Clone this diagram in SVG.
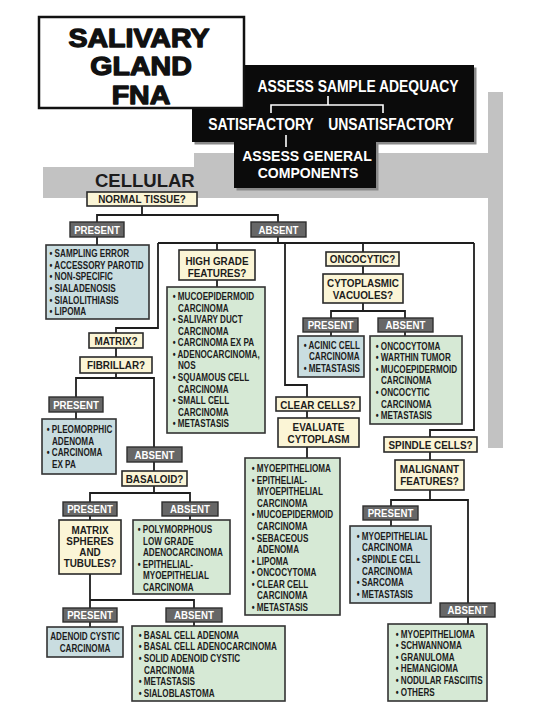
<svg xmlns="http://www.w3.org/2000/svg" width="540" height="720" viewBox="0 0 540 720">
<style>
text{font-family:"Liberation Sans",Arial,Helvetica,sans-serif;font-weight:bold}
.li{font-size:10.7px;fill:#1c1c1c}
.lc{font-size:10.7px;fill:#1c1c1c;text-anchor:middle}
.q{font-size:11px;fill:#1c1c1c;text-anchor:middle}
.lb{font-size:11px;fill:#ffffff;text-anchor:middle}
.bk{font-size:16px;fill:#ffffff;text-anchor:middle}
.bk2{font-size:14.5px;fill:#ffffff;text-anchor:middle}
.tt{font-size:25.5px;fill:#111;text-anchor:middle;stroke:#111;stroke-width:1.3;stroke-linejoin:round}
.cq{fill:#fbf5d6;stroke:#2a2a2a;stroke-width:1.6}
.cb{fill:#c9dde0;stroke:#333;stroke-width:1.6}
.cg{fill:#d6e9d5;stroke:#333;stroke-width:1.6}
.cl{fill:#676767;stroke:#2f2f2f;stroke-width:1.4}
.con{fill:none;stroke:#1e1e1e;stroke-width:1.8}
</style>

<g id="background">
<path d="M43,167 H194 V153 H488 V92 H503 V448 H488 V198 H43 Z" fill="#c2c2c2"/>
</g>

<g id="adequacy">
<path d="M194.5,67.5 H476.5 V144.5 H378.5 V190.5 H236.5 V144.5 H194.5 Z" fill="#8a8a8a"/>
<path d="M192,65 H474 V142 H376 V188 H234 V142 H192 Z" fill="#0b0b0b"/>
<text class="bk" transform="translate(358 92) scale(.87 1)">ASSESS SAMPLE ADEQUACY</text>
<path d="M328,96 V105 M271,113 V105 H383 V113" fill="none" stroke="#fff" stroke-width="1.6"/>
<text class="bk" transform="translate(261 130) scale(.87 1)">SATISFACTORY</text>
<text class="bk" transform="translate(391 130) scale(.87 1)">UNSATISFACTORY</text>
<path d="M286,135 V147" fill="none" stroke="#fff" stroke-width="1.6"/>
<text class="bk2" transform="translate(307 161) scale(.97 1)">ASSESS GENERAL</text>
<text class="bk2" transform="translate(308 177.5) scale(.97 1)">COMPONENTS</text>
</g>

<g id="title">
<rect x="39" y="17" width="205" height="91" fill="#fff" stroke="#111" stroke-width="2.5"/>
<text class="tt" transform="translate(139 46.5) scale(1.12 1)">SALIVARY</text>
<text class="tt" transform="translate(141 75) scale(1.12 1)">GLAND</text>
<text class="tt" transform="translate(141 103.5) scale(1.12 1)">FNA</text>
</g>

<g id="cellular">
<text x="95" y="187" font-size="18.5" fill="#1c1c1c">CELLULAR</text>
</g>

<g id="connectors" class="con">
<path class="con" d="M142,206 V215 M97,222 V215 H278 V222"/>
<path class="con" d="M97,237 V245"/>
<path class="con" d="M278,237 V243 M158,243 H474"/>
<path class="con" d="M158,243 V328 H116 V333"/>
<path class="con" d="M217,243 V250"/>
<path class="con" d="M285,243 V385 H307 V397"/>
<path class="con" d="M363,243 V252"/>
<path class="con" d="M474,243 V430 H430 V437"/>
<path class="con" d="M217,280 V287"/>
<path class="con" d="M116,348 V357"/>
<path class="con" d="M116,373 V378 M76,397 V378 H154 V447"/>
<path class="con" d="M76,412 V419"/>
<path class="con" d="M154,462 V471"/>
<path class="con" d="M154,486 V493 M90,502 V493 H190 V502"/>
<path class="con" d="M90,516 V520"/>
<path class="con" d="M190,516 V520"/>
<path class="con" d="M90,574 V600 M90,608 V600 H194 V608"/>
<path class="con" d="M90,622 V627"/>
<path class="con" d="M194,622 V626"/>
<path class="con" d="M307,411 V418"/>
<path class="con" d="M307,447 V458"/>
<path class="con" d="M363,266 V274"/>
<path class="con" d="M363,303 V311 M331,318 V311 H405 V318"/>
<path class="con" d="M331,332 V336"/>
<path class="con" d="M405,332 V336"/>
<path class="con" d="M430,452 V460"/>
<path class="con" d="M430,490 V500 M391,506 V500 H468 V603"/>
<path class="con" d="M391,520 V526"/>
<path class="con" d="M468,617 V624"/>
</g>

<g id="normal-tissue">
<rect class="cq" x="87" y="192" width="110" height="14"/>
<text class="q" transform="translate(142 202.5) scale(.9 1)">NORMAL TISSUE?</text>
</g>

<g id="present-1">
<rect class="cl" x="70" y="222" width="54" height="15"/>
<text class="lb" transform="translate(97 233.5) scale(.88 1)">PRESENT</text>
</g>

<g id="absent-1">
<rect class="cl" x="251" y="222" width="55" height="15"/>
<text class="lb" transform="translate(278.5 233.5) scale(.88 1)">ABSENT</text>
</g>

<g id="normal-list">
<rect class="cb" x="46" y="245" width="103" height="74"/>
<text class="li" transform="translate(49.5 257) scale(.76 1)">• SAMPLING ERROR</text>
<text class="li" transform="translate(49.5 268.7) scale(.76 1)">• ACCESSORY PAROTID</text>
<text class="li" transform="translate(49.5 280.3) scale(.76 1)">• NON-SPECIFIC</text>
<text class="li" transform="translate(49.5 292) scale(.76 1)">• SIALADENOSIS</text>
<text class="li" transform="translate(49.5 303.7) scale(.76 1)">• SIALOLITHIASIS</text>
<text class="li" transform="translate(49.5 315.3) scale(.76 1)">• LIPOMA</text>
</g>

<g id="high-grade">
<rect class="cq" x="179" y="250" width="76" height="30"/>
<text class="q" transform="translate(217 265) scale(.9 1)">HIGH GRADE</text>
<text class="q" transform="translate(217 277) scale(.9 1)">FEATURES?</text>
</g>

<g id="high-grade-list">
<rect class="cg" x="167" y="287" width="98" height="146"/>
<text class="li" transform="translate(172.7 300) scale(.76 1)">• MUCOEPIDERMOID</text>
<text class="li" transform="translate(178 311.6) scale(.76 1)">CARCINOMA</text>
<text class="li" transform="translate(172.7 323.1) scale(.76 1)">• SALIVARY DUCT</text>
<text class="li" transform="translate(178 334.7) scale(.76 1)">CARCINOMA</text>
<text class="li" transform="translate(172.7 346.3) scale(.76 1)">• CARCINOMA EX PA</text>
<text class="li" transform="translate(172.7 357.9) scale(.76 1)">• ADENOCARCINOMA,</text>
<text class="li" transform="translate(178 369.4) scale(.76 1)">NOS</text>
<text class="li" transform="translate(172.7 381) scale(.76 1)">• SQUAMOUS CELL</text>
<text class="li" transform="translate(178 392.6) scale(.76 1)">CARCINOMA</text>
<text class="li" transform="translate(172.7 404.1) scale(.76 1)">• SMALL CELL</text>
<text class="li" transform="translate(178 415.7) scale(.76 1)">CARCINOMA</text>
<text class="li" transform="translate(172.7 427.3) scale(.76 1)">• METASTASIS</text>
</g>

<g id="matrix">
<rect class="cq" x="89" y="333" width="54" height="15"/>
<text class="q" transform="translate(116 344.5) scale(.9 1)">MATRIX?</text>
</g>

<g id="fibrillar">
<rect class="cq" x="80" y="357" width="72" height="16"/>
<text class="q" transform="translate(116 369) scale(.9 1)">FIBRILLAR?</text>
</g>

<g id="present-2">
<rect class="cl" x="49" y="397" width="54" height="15"/>
<text class="lb" transform="translate(76 408.5) scale(.88 1)">PRESENT</text>
</g>

<g id="fibrillar-list">
<rect class="cb" x="42" y="419" width="74" height="55"/>
<text class="li" transform="translate(46.7 433) scale(.76 1)">• PLEOMORPHIC</text>
<text class="li" transform="translate(52 444.6) scale(.76 1)">ADENOMA</text>
<text class="li" transform="translate(46.7 456.2) scale(.76 1)">• CARCINOMA</text>
<text class="li" transform="translate(52 467.8) scale(.76 1)">EX PA</text>
</g>

<g id="absent-2">
<rect class="cl" x="127" y="447" width="55" height="15"/>
<text class="lb" transform="translate(154.5 458.5) scale(.88 1)">ABSENT</text>
</g>

<g id="basaloid">
<rect class="cq" x="122" y="471" width="65" height="15"/>
<text class="q" transform="translate(154.5 482.5) scale(.9 1)">BASALOID?</text>
</g>

<g id="present-3">
<rect class="cl" x="63" y="502" width="54" height="14"/>
<text class="lb" transform="translate(90 513) scale(.88 1)">PRESENT</text>
</g>

<g id="absent-3">
<rect class="cl" x="162" y="502" width="56" height="14"/>
<text class="lb" transform="translate(190 513) scale(.88 1)">ABSENT</text>
</g>

<g id="matrix-spheres">
<rect class="cq" x="59" y="520" width="62" height="54"/>
<text class="q" transform="translate(90 534) scale(.9 1)">MATRIX</text>
<text class="q" transform="translate(90 545) scale(.9 1)">SPHERES</text>
<text class="q" transform="translate(90 556) scale(.9 1)">AND</text>
<text class="q" transform="translate(90 567) scale(.9 1)">TUBULES?</text>
</g>

<g id="basaloid-absent-list">
<rect class="cg" x="133" y="520" width="97" height="74"/>
<text class="li" transform="translate(137.7 533) scale(.76 1)">• POLYMORPHOUS</text>
<text class="li" transform="translate(143 544.5) scale(.76 1)">LOW GRADE</text>
<text class="li" transform="translate(143 556) scale(.76 1)">ADENOCARCINOMA</text>
<text class="li" transform="translate(137.7 567.5) scale(.76 1)">• EPITHELIAL-</text>
<text class="li" transform="translate(143 579) scale(.76 1)">MYOEPITHELIAL</text>
<text class="li" transform="translate(143 590.5) scale(.76 1)">CARCINOMA</text>
</g>

<g id="present-4">
<rect class="cl" x="63" y="608" width="54" height="14"/>
<text class="lb" transform="translate(90 619) scale(.88 1)">PRESENT</text>
</g>

<g id="absent-4">
<rect class="cl" x="166" y="608" width="56" height="14"/>
<text class="lb" transform="translate(194 619) scale(.88 1)">ABSENT</text>
</g>

<g id="adenoid-cystic">
<rect class="cb" x="47" y="627" width="76" height="30"/>
<text class="lc" transform="translate(85 640) scale(.76 1)">ADENOID CYSTIC</text>
<text class="lc" transform="translate(85 651.5) scale(.76 1)">CARCINOMA</text>
</g>

<g id="spheres-absent-list">
<rect class="cg" x="132" y="626" width="153" height="75"/>
<text class="li" transform="translate(138.7 638.7) scale(.76 1)">• BASAL CELL ADENOMA</text>
<text class="li" transform="translate(138.7 650.3) scale(.76 1)">• BASAL CELL ADENOCARCINOMA</text>
<text class="li" transform="translate(138.7 662) scale(.76 1)">• SOLID ADENOID CYSTIC</text>
<text class="li" transform="translate(144 673.7) scale(.76 1)">CARCINOMA</text>
<text class="li" transform="translate(138.7 685.3) scale(.76 1)">• METASTASIS</text>
<text class="li" transform="translate(138.7 697) scale(.76 1)">• SIALOBLASTOMA</text>
</g>

<g id="clear-cells">
<rect class="cq" x="276" y="397" width="84" height="14"/>
<text class="q" transform="translate(318 408.5) scale(.9 1)">CLEAR CELLS?</text>
</g>

<g id="evaluate">
<rect class="cq" x="278" y="418" width="81" height="29"/>
<text class="q" transform="translate(318.5 431) scale(.9 1)">EVALUATE</text>
<text class="q" transform="translate(318.5 443) scale(.9 1)">CYTOPLASM</text>
</g>

<g id="clear-list">
<rect class="cg" x="245" y="458" width="95" height="157"/>
<text class="li" transform="translate(251.7 472.3) scale(.76 1)">• MYOEPITHELIOMA</text>
<text class="li" transform="translate(251.7 483.8) scale(.76 1)">• EPITHELIAL-</text>
<text class="li" transform="translate(257 495.4) scale(.76 1)">MYOEPITHELIAL</text>
<text class="li" transform="translate(257 506.9) scale(.76 1)">CARCINOMA</text>
<text class="li" transform="translate(251.7 518.4) scale(.76 1)">• MUCOEPIDERMOID</text>
<text class="li" transform="translate(257 530) scale(.76 1)">CARCINOMA</text>
<text class="li" transform="translate(251.7 541.5) scale(.76 1)">• SEBACEOUS</text>
<text class="li" transform="translate(257 553) scale(.76 1)">ADENOMA</text>
<text class="li" transform="translate(251.7 564.5) scale(.76 1)">• LIPOMA</text>
<text class="li" transform="translate(251.7 576.1) scale(.76 1)">• ONCOCYTOMA</text>
<text class="li" transform="translate(251.7 587.6) scale(.76 1)">• CLEAR CELL</text>
<text class="li" transform="translate(257 599.1) scale(.76 1)">CARCINOMA</text>
<text class="li" transform="translate(251.7 610.7) scale(.76 1)">• METASTASIS</text>
</g>

<g id="oncocytic">
<rect class="cq" x="326" y="252" width="73" height="14"/>
<text class="q" transform="translate(362.5 263) scale(.9 1)">ONCOCYTIC?</text>
</g>

<g id="cytoplasmic">
<rect class="cq" x="323" y="274" width="80" height="29"/>
<text class="q" transform="translate(363 287) scale(.9 1)">CYTOPLASMIC</text>
<text class="q" transform="translate(363 299) scale(.9 1)">VACUOLES?</text>
</g>

<g id="present-5">
<rect class="cl" x="303" y="318" width="55" height="14"/>
<text class="lb" transform="translate(330.5 329) scale(.88 1)">PRESENT</text>
</g>

<g id="absent-5">
<rect class="cl" x="378" y="318" width="55" height="14"/>
<text class="lb" transform="translate(405.5 329) scale(.88 1)">ABSENT</text>
</g>

<g id="vacuoles-present-list">
<rect class="cb" x="298" y="336" width="66" height="41"/>
<text class="li" transform="translate(303.7 348.5) scale(.76 1)">• ACINIC CELL</text>
<text class="li" transform="translate(309 360) scale(.76 1)">CARCINOMA</text>
<text class="li" transform="translate(303.7 371.5) scale(.76 1)">• METASTASIS</text>
</g>

<g id="vacuoles-absent-list">
<rect class="cg" x="370" y="336" width="92" height="88"/>
<text class="li" transform="translate(375.7 349.7) scale(.76 1)">• ONCOCYTOMA</text>
<text class="li" transform="translate(375.7 361.3) scale(.76 1)">• WARTHIN TUMOR</text>
<text class="li" transform="translate(375.7 372.8) scale(.76 1)">• MUCOEPIDERMOID</text>
<text class="li" transform="translate(381 384.4) scale(.76 1)">CARCINOMA</text>
<text class="li" transform="translate(375.7 396) scale(.76 1)">• ONCOCYTIC</text>
<text class="li" transform="translate(381 407.6) scale(.76 1)">CARCINOMA</text>
<text class="li" transform="translate(375.7 419.1) scale(.76 1)">• METASTASIS</text>
</g>

<g id="spindle-cells">
<rect class="cq" x="384" y="437" width="93" height="15"/>
<text class="q" transform="translate(430.5 448.5) scale(.9 1)">SPINDLE CELLS?</text>
</g>

<g id="malignant">
<rect class="cq" x="395" y="460" width="69" height="30"/>
<text class="q" transform="translate(429.5 473) scale(.9 1)">MALIGNANT</text>
<text class="q" transform="translate(429.5 485) scale(.9 1)">FEATURES?</text>
</g>

<g id="present-6">
<rect class="cl" x="363" y="506" width="55" height="14"/>
<text class="lb" transform="translate(390.5 517) scale(.88 1)">PRESENT</text>
</g>

<g id="malignant-list">
<rect class="cb" x="350" y="526" width="81" height="77"/>
<text class="li" transform="translate(356.7 539.7) scale(.76 1)">• MYOEPITHELIAL</text>
<text class="li" transform="translate(362 551.4) scale(.76 1)">CARCINOMA</text>
<text class="li" transform="translate(356.7 563) scale(.76 1)">• SPINDLE CELL</text>
<text class="li" transform="translate(362 574.7) scale(.76 1)">CARCINOMA</text>
<text class="li" transform="translate(356.7 586.3) scale(.76 1)">• SARCOMA</text>
<text class="li" transform="translate(356.7 598) scale(.76 1)">• METASTASIS</text>
</g>

<g id="absent-6">
<rect class="cl" x="440" y="603" width="55" height="14"/>
<text class="lb" transform="translate(467.5 614) scale(.88 1)">ABSENT</text>
</g>

<g id="benign-list">
<rect class="cg" x="388" y="624" width="99" height="77"/>
<text class="li" transform="translate(395.7 637.5) scale(.76 1)">• MYOEPITHELIOMA</text>
<text class="li" transform="translate(395.7 649.1) scale(.76 1)">• SCHWANNOMA</text>
<text class="li" transform="translate(395.7 660.7) scale(.76 1)">• GRANULOMA</text>
<text class="li" transform="translate(395.7 672.3) scale(.76 1)">• HEMANGIOMA</text>
<text class="li" transform="translate(395.7 683.9) scale(.76 1)">• NODULAR FASCIITIS</text>
<text class="li" transform="translate(395.7 695.5) scale(.76 1)">• OTHERS</text>
</g>
</svg>
